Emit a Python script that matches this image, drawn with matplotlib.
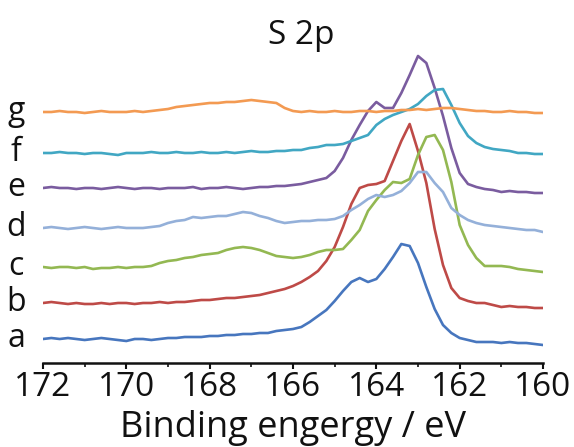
import numpy as np
import matplotlib
matplotlib.use('Agg')
import matplotlib.pyplot as plt
import matplotlib.transforms as mtransforms
from matplotlib.ticker import MultipleLocator

plt.rcParams['font.family'] = ['Open Sans', 'DejaVu Sans']

# binding energy grid, 172 -> 160 eV in 0.2 eV steps
be = np.linspace(172.0, 160.0, 61)

# S 2p intensities (baseline at 0 on the high-BE side), one list per sample
s_a = [0, 1, 0, 1, 0, -1, 0, 1, 0, -1, -2, 0, 0, -1, 0, 1, 1, 2, 2, 2,
       3, 3, 4, 4, 5, 5, 6, 6, 8, 9, 10, 12, 17, 23, 29, 38, 48, 57, 61, 57,
       60, 70, 82, 95, 93, 76, 52, 30, 14, 6, 1, -1, -3, -3, -3, -4, -3, -4, -4, -5,
       -6]
s_b = [0, 1, 0, -1, 0, -1, -1, 0, -1, 0, 0, -1, 0, 0, 1, 0, 1, 1, 2, 3,
       3, 4, 5, 5, 6, 7, 8, 10, 12, 14, 17, 21, 26, 32, 42, 56, 76, 99, 115, 118,
       119, 122, 142, 162, 179, 152, 120, 74, 38, 15, 5, 2, 0, 0, -2, -4, -3, -4, -4, -5,
       -5]
s_c = [0, -1, 0, 0, -1, 0, -2, -1, -1, 0, -1, 0, 0, 1, 4, 6, 7, 9, 10, 12,
       13, 14, 17, 19, 20, 19, 17, 14, 11, 10, 9, 10, 12, 15, 17, 17, 18, 27, 37, 56,
       67, 77, 85, 84, 88, 112, 130, 132, 117, 85, 42, 22, 9, 1, 1, 1, 0, -2, -3, -4,
       -5]
s_d = [0, 1, 0, -1, 0, 1, 0, -1, 0, 1, 0, 0, 0, 1, 2, 5, 7, 8, 11, 10,
       11, 12, 12, 14, 16, 15, 12, 10, 7, 5, 6, 7, 7, 8, 8, 9, 12, 18, 23, 29,
       33, 31, 33, 37, 45, 56, 56, 45, 36, 20, 13, 8, 5, 3, 2, 1, 0, -1, -2, -2,
       -4]
s_e = [0, 1, 0, 0, -1, 0, 0, -1, 0, 1, 0, -1, 0, 0, -1, 0, 0, 0, 1, -1,
       0, 0, 1, 0, -1, 0, 1, 1, 2, 2, 3, 4, 6, 8, 10, 17, 30, 48, 63, 77,
       86, 80, 80, 95, 113, 132, 125, 100, 72, 40, 15, 4, 1, -1, -2, -4, -3, -4, -4, -5,
       -5]
s_f = [0, 0, 1, 0, 0, -1, 0, 0, -1, -2, 0, 0, 0, 1, 0, 0, 1, 0, 0, 1,
       0, 0, 1, 0, 1, 2, 1, 1, 2, 2, 3, 3, 5, 6, 8, 8, 9, 12, 15, 18,
       28, 34, 38, 41, 44, 49, 57, 63, 64, 48, 30, 17, 10, 6, 4, 3, 2, 0, 0, -1,
       -1]
s_g = [0, 0, 1, 0, 0, -1, 0, 1, 0, 0, 0, 1, 0, 1, 2, 3, 5, 6, 7, 8,
       9, 9, 10, 10, 11, 12, 11, 10, 9, 4, 1, 0, 1, 0, 0, 1, 0, 0, 1, 1,
       0, 1, 1, 2, 2, 3, 2, 3, 4, 4, 3, 2, 1, 1, 0, 0, 1, 0, 0, -1,
       -1]

labels = ['a', 'b', 'c', 'd', 'e', 'f', 'g']
spectra = [s_a, s_b, s_c, s_d, s_e, s_f, s_g]
offsets = [24, 60, 96, 135, 175, 210, 251]
colors = ['#4776BE', '#BE4A47', '#93B852', '#94B0D9', '#7A5C9F', '#41A7C3', '#F39A52']

fig = plt.figure(figsize=(5.74, 4.47), dpi=100)
ax = fig.add_axes([43 / 574, 84 / 447, 500 / 574, 323 / 447])

trans = mtransforms.blended_transform_factory(ax.transAxes, ax.transData)
for lab, s, off, c in zip(labels, spectra, offsets, colors):
    ax.plot(be, np.array(s) + off, color=c, lw=1.9, solid_joinstyle='round')
    ax.text(-0.054, off - 8, lab, transform=trans, ha='center', va='baseline',
            fontsize=23, color='#111111')

ax.set_xlim(172, 160)
ax.set_ylim(0, 323)
ax.xaxis.set_major_locator(MultipleLocator(2))
ax.xaxis.set_minor_locator(MultipleLocator(1))
ax.tick_params(axis='x', which='major', direction='out', length=4.5, width=1.5,
               labelsize=24, pad=1, colors='#111111')
ax.tick_params(axis='x', which='minor', direction='out', length=3, width=1.2,
               colors='#111111')
ax.set_yticks([])
for side in ['top', 'right', 'left']:
    ax.spines[side].set_visible(False)
ax.spines['bottom'].set_linewidth(1.8)
ax.spines['bottom'].set_color('#111111')

ax.set_xlabel('Binding engergy / eV', fontsize=26, color='#111111', va='baseline')
ax.xaxis.set_label_coords(0.5, -74 / 323)
fig.text(301 / 574, 1 - 36 / 447, 'S 2p', ha='center', va='center', fontsize=24,
         color='#111111')

fig.savefig('out.png', dpi=100)
